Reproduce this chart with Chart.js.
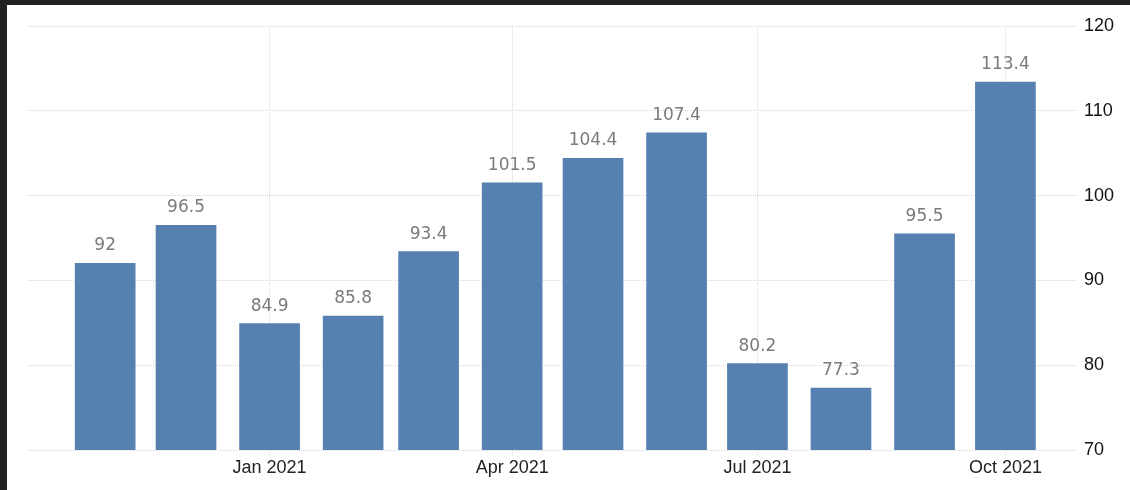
<!DOCTYPE html>
<html>
<head>
<meta charset="utf-8">
<script src="https://cdn.jsdelivr.net/npm/chart.js@4/dist/chart.umd.min.js"></script>
<style>
  html, body { margin: 0; padding: 0; background: #222; }
  #wrap { position: absolute; left: 7px; top: 5px; width: 1123px; height: 485px; background: #fff; }
</style>
</head>
<body>
<div id="wrap"><canvas id="chart" width="1123" height="485"></canvas></div>
<script>
'use strict';

// monthly values, Nov 2020 .. Oct 2021
const months = ['2020-11', '2020-12', '2021-01', '2021-02', '2021-03', '2021-04',
                '2021-05', '2021-06', '2021-07', '2021-08', '2021-09', '2021-10'];
const values = [92, 96.5, 84.9, 85.8, 93.4, 101.5, 104.4, 107.4, 80.2, 77.3, 95.5, 113.4];

const tickMonths = ['2021-01', '2021-04', '2021-07', '2021-10'];
const tickLabels = ['Jan 2021', 'Apr 2021', 'Jul 2021', 'Oct 2021'];
const yTicks = [70, 80, 90, 100, 110, 120];

const rangeStart = '2020-10-03';
const rangeEnd = '2021-10-22';

// days since 1 Jan 2021
function dayOf(s) {
  const p = s.split('-').map(Number);
  return (Date.UTC(p[0], p[1] - 1, p[2] || 1) - Date.UTC(2021, 0, 1)) / 86400000;
}

const points = months.map((m, i) => ({ x: dayOf(m), y: values[i] }));
const tickDays = tickMonths.map(dayOf);

const valueLabels = {
  id: 'valueLabels',
  afterDatasetsDraw(chart) {
    const ctx = chart.ctx;
    const meta = chart.getDatasetMeta(0);
    ctx.save();
    ctx.font = '17px "DejaVu Sans"';
    ctx.fillStyle = '#7a7a7a';
    ctx.textAlign = 'center';
    ctx.textBaseline = 'alphabetic';
    meta.data.forEach((bar, i) => {
      ctx.fillText(String(values[i]), bar.x, bar.y - 13);
    });
    ctx.restore();
  }
};

const gridStyle = {
  color: '#d9d9d9',
  lineWidth: 1,
  offset: false,
  drawOnChartArea: true
};

new Chart(document.getElementById('chart').getContext('2d'), {
  type: 'bar',
  data: {
    datasets: [{
      data: points,
      backgroundColor: '#5580b0',
      borderWidth: 0,
      barThickness: 60
    }]
  },
  options: {
    animation: false,
    responsive: false,
    layout: { padding: { left: 20, right: 16, top: 21, bottom: 0 } },
    plugins: { legend: { display: false }, tooltip: { enabled: false } },
    scales: {
      x: {
        type: 'linear',
        min: dayOf(rangeStart),
        max: dayOf(rangeEnd),
        offset: false,
        afterBuildTicks(scale) {
          scale.ticks = tickDays.map(v => ({ value: v }));
        },
        afterFit(scale) { scale.height = 40; },
        ticks: {
          autoSkip: false,
          maxRotation: 0,
          padding: 1,
          color: '#222',
          font: { family: '"Liberation Sans"', size: 18 },
          callback: (v) => tickLabels[tickDays.indexOf(v)]
        },
        grid: Object.assign({ tickLength: 6, tickBorderDash: [1, 1] }, gridStyle, { borderDash: [1, 1] }),
        border: { display: false, dash: [1, 1] }
      },
      y: {
        position: 'right',
        min: 70,
        max: 120,
        afterBuildTicks(scale) {
          scale.ticks = yTicks.map(v => ({ value: v }));
        },
        afterFit(scale) { scale.width = 52; },
        ticks: {
          padding: 6,
          color: '#111',
          font: { family: '"Liberation Sans"', size: 18 }
        },
        grid: Object.assign({ tickLength: 16, tickBorderDash: [1, 1] }, gridStyle, { borderDash: [1, 1] }),
        border: { display: false, dash: [1, 1] }
      }
    }
  },
  plugins: [valueLabels]
});
</script>
</body>
</html>
